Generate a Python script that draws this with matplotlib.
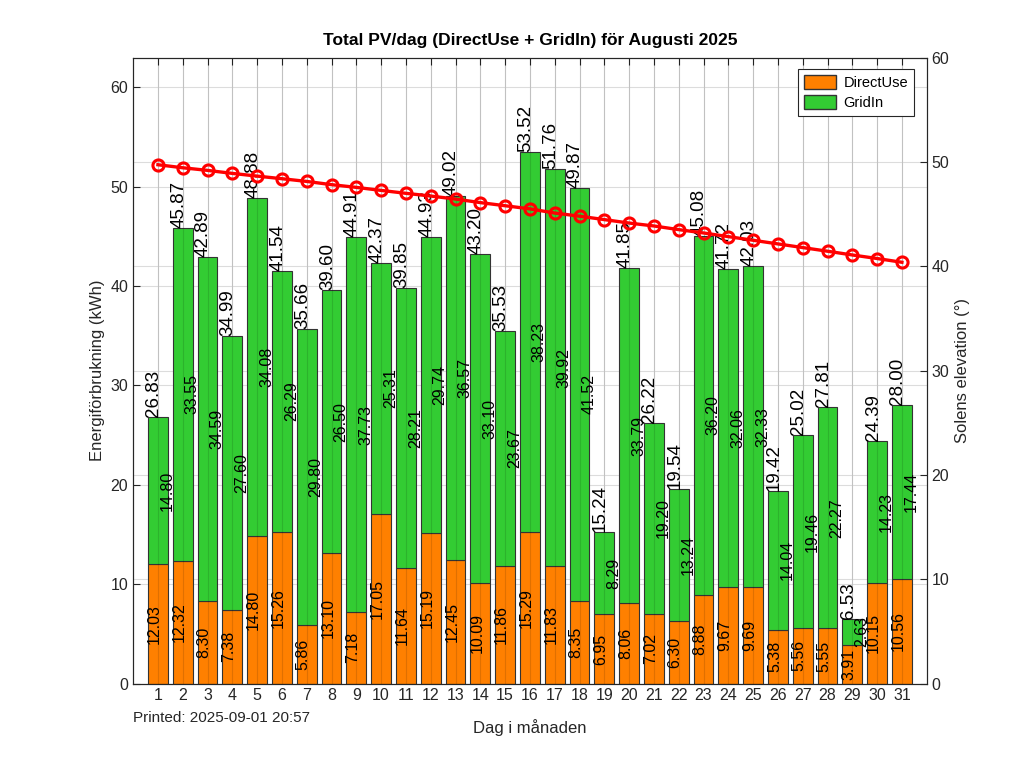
import matplotlib
matplotlib.use("Agg")
import matplotlib.pyplot as plt
import numpy as np
from matplotlib.patches import Patch

days = list(range(1, 32))
direct_use = [12.03, 12.32, 8.30, 7.38, 14.80, 15.26, 5.86, 13.10, 7.18, 17.05, 11.64, 15.19, 12.45, 10.09, 11.86, 15.29,
              11.83, 8.35, 6.95, 8.06, 7.02, 6.30, 8.88, 9.67, 9.69, 5.38, 5.56, 5.55, 3.91, 10.15, 10.56]
grid_in = [14.80, 33.55, 34.59, 27.60, 34.08, 26.29, 29.80, 26.50, 37.73, 25.31, 28.21, 29.74, 36.57, 33.10, 23.67, 38.23,
           39.92, 41.52, 8.29, 33.79, 19.20, 13.24, 36.20, 32.06, 32.33, 14.04, 19.46, 22.27, 2.63, 14.23, 17.44]
totals = [26.83, 45.87, 42.89, 34.99, 48.88, 41.54, 35.66, 39.60, 44.91, 42.37, 39.85, 44.93, 49.02, 43.20, 35.53, 53.52,
          51.76, 49.87, 15.24, 41.85, 26.22, 19.54, 45.08, 41.72, 42.03, 19.42, 25.02, 27.81, 6.53, 24.39, 28.00]
sun_elev = [49.73, 49.44, 49.19, 48.90, 48.64, 48.39, 48.13, 47.82, 47.56, 47.27, 46.99, 46.73, 46.44, 46.10, 45.80, 45.50,
            45.10, 44.80, 44.47, 44.14, 43.86, 43.51, 43.19, 42.84, 42.49, 42.14, 41.79, 41.44, 41.08, 40.74, 40.38]

plt.rcParams['font.family'] = ['Liberation Sans', 'DejaVu Sans']
AX_COLOR = '#262626'
ORANGE = '#FF8000'
GREEN = '#33CC33'
GRID = '#dcdcdc'

LEFT_MAX = 63
RIGHT_MAX = 60

fig = plt.figure(figsize=(10.24, 7.68), dpi=100)
ax = fig.add_axes([0.13, 0.11, 0.775, 0.815])
ax2 = ax.twinx()

ax.bar(days, direct_use, width=0.8, color=ORANGE, edgecolor='#333333', linewidth=0.8, zorder=2)
ax.bar(days, grid_in, width=0.8, bottom=direct_use, color=GREEN, edgecolor='#333333', linewidth=0.8, zorder=2)

for d, du, gi, tot in zip(days, direct_use, grid_in, totals):
    ax.text(d + 0.04, du / 2, f"{du:.2f}", rotation=90, rotation_mode='anchor',
            ha='center', va='baseline', fontsize=11.5, color='black', zorder=5)
    ax.text(d + 0.08, du + gi / 2, f"{gi:.2f}", rotation=90, rotation_mode='anchor',
            ha='center', va='top', fontsize=11.5, color='black', zorder=5)
    ax.text(d + 0.02, tot, f"{tot:.2f}", rotation=90, rotation_mode='anchor',
            ha='left', va='baseline', fontsize=13.5, color='black', zorder=5)

ax2.plot(days, sun_elev, color='#FF0000', linewidth=2.4, marker='o', markersize=8,
         markerfacecolor='none', markeredgewidth=2.2, zorder=6)

ax.set_xlim(0, 32)
ax.set_ylim(0, LEFT_MAX)
ax.set_yticks(np.arange(0, 61, 10))
ax.set_xticks(days)
ax2.set_ylim(0, RIGHT_MAX)
ax2.set_yticks(np.arange(0, 61, 10))

# grids (below bars)
ax.grid(True, axis='y', color=GRID, linewidth=0.8, zorder=0)
ax.grid(True, axis='x', color=GRID, linewidth=0.8, zorder=0)
ax.set_axisbelow(True)
for v in np.arange(10, 60, 10):
    ax.axhline(v * LEFT_MAX / RIGHT_MAX, color=GRID, linewidth=0.8, zorder=0.5)
# faint vertical lines visible over bars
for d in days:
    ax.axvline(d, color='black', alpha=0.12, linewidth=0.8, zorder=3)

for a in (ax, ax2):
    for s in a.spines.values():
        s.set_color(AX_COLOR)
        s.set_linewidth(0.8)
ax.tick_params(direction='in', top=True, right=False, labelsize=11.5, colors=AX_COLOR, length=5)
ax2.tick_params(direction='in', labelsize=11.5, colors=AX_COLOR, length=5)

ax.set_title("Total PV/dag (DirectUse + GridIn) för Augusti 2025", fontsize=12.5, fontweight='bold', pad=9)
ax.set_ylabel("Energiförbrukning (kWh)", fontsize=12, color=AX_COLOR)
ax2.set_ylabel("Solens elevation (°)", fontsize=12, color=AX_COLOR)
ax.set_xlabel("Dag i månaden", fontsize=12, color=AX_COLOR, labelpad=11)

fig.text(0.13, 0.065, "Printed: 2025-09-01 20:57", fontsize=11, color=AX_COLOR, ha='left', va='center')

handles = [Patch(facecolor=ORANGE, edgecolor='#333333', label='DirectUse'),
           Patch(facecolor=GREEN, edgecolor='#333333', label='GridIn')]
leg = ax2.legend(handles=handles, loc='upper right', fontsize=10.5, fancybox=False, framealpha=1,
                 edgecolor=AX_COLOR, handlelength=2.2, handleheight=1.1, borderpad=0.4,
                 handletextpad=0.5, labelspacing=0.35, borderaxespad=0,
                 bbox_to_anchor=(0.984, 0.981))
leg.get_frame().set_linewidth(0.8)
leg.set_zorder(10)

fig.savefig("out.png", dpi=100)
